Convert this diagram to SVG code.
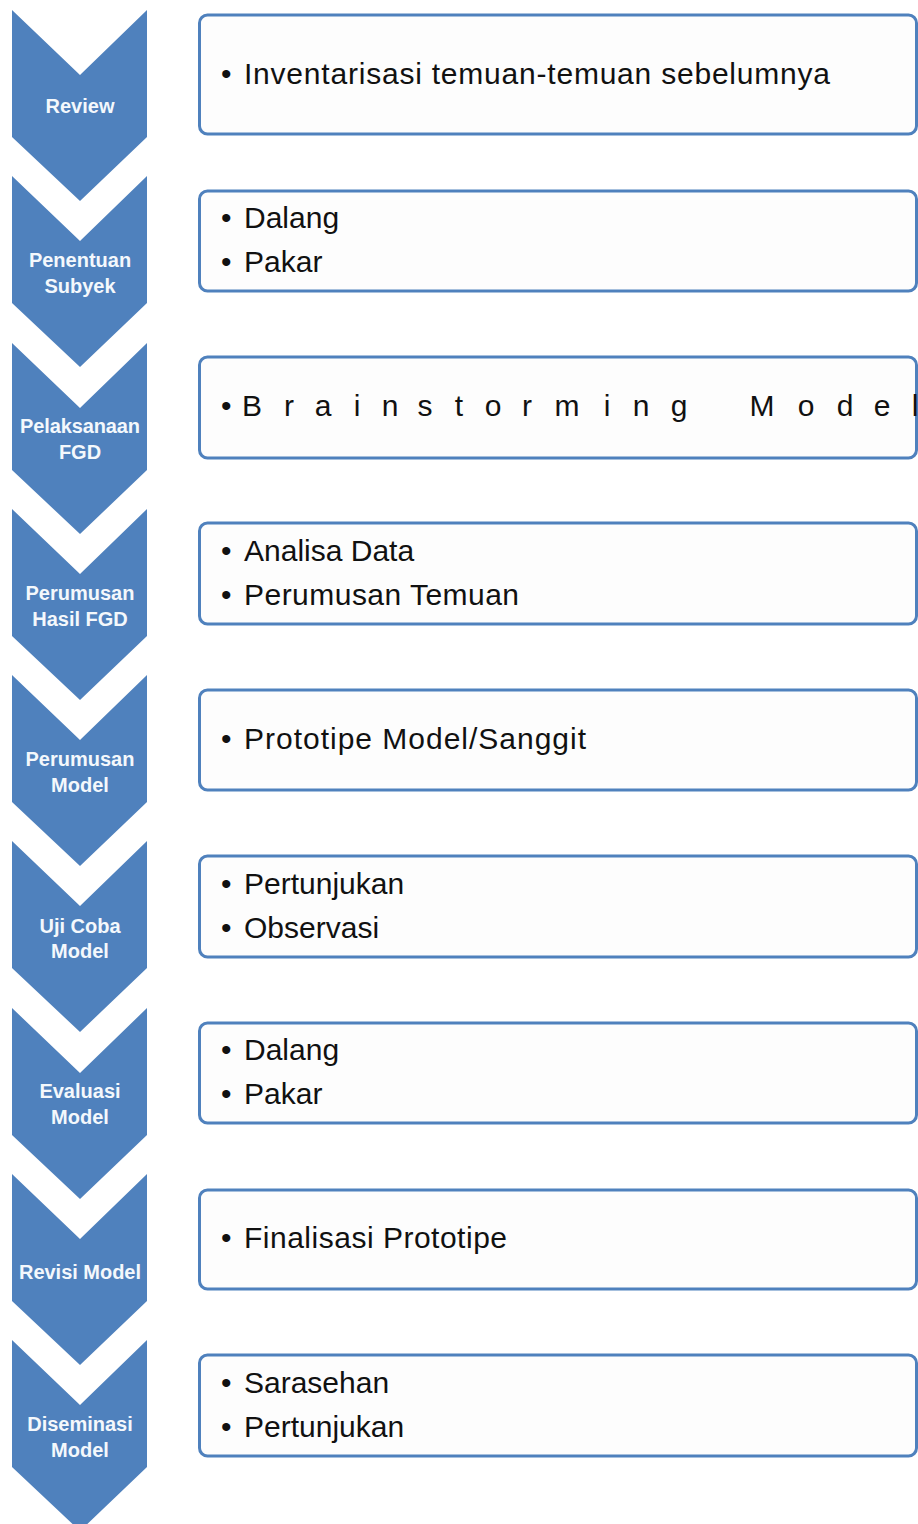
<svg xmlns="http://www.w3.org/2000/svg" width="918" height="1524" viewBox="0 0 918 1524">
<defs>
<style>
.chev{fill:#4f81bd;}
.lbl{font-family:"Liberation Sans",Arial,sans-serif;font-size:20px;font-weight:bold;fill:#f4f8fc;text-anchor:middle;}
.box{fill:#fdfdfd;stroke:#4f81bd;stroke-width:3;}
.txt{font-family:"Liberation Sans",Arial,sans-serif;font-size:30px;fill:#111;}
.sp{font-family:"Liberation Sans",Arial,sans-serif;font-size:30px;fill:#111;text-anchor:middle;}
</style>
</defs>
<rect width="918" height="1524" fill="#ffffff"/>
<g id="connectors"></g>

<g id="step1">
<polygon class="chev" points="12,10 80,75 147,10 147,137 80,201 12,137"/>
<text class="lbl" x="80" y="113">Review</text>
</g>
<g id="box1">
<rect class="box" x="199.5" y="15" width="717" height="119" rx="8"/>
<text class="txt" y="84"><tspan x="221">•</tspan><tspan x="244" textLength="586">Inventarisasi temuan-temuan sebelumnya</tspan></text>
</g>

<g id="step2">
<polygon class="chev" points="12,176 80,241 147,176 147,303 80,367 12,303"/>
<text class="lbl" x="80" y="267">Penentuan</text>
<text class="lbl" x="80" y="293">Subyek</text>
</g>
<g id="box2">
<rect class="box" x="199.5" y="191" width="717" height="100" rx="8"/>
<text class="txt" y="228"><tspan x="221">•</tspan><tspan x="244">Dalang</tspan></text>
<text class="txt" y="272"><tspan x="221">•</tspan><tspan x="244">Pakar</tspan></text>
</g>

<g id="step3">
<polygon class="chev" points="12,343 80,408 147,343 147,470 80,534 12,470"/>
<text class="lbl" x="80" y="433" textLength="120">Pelaksanaan</text>
<text class="lbl" x="80" y="459">FGD</text>
</g>
<g id="box3">
<rect class="box" x="199.5" y="357" width="717" height="101" rx="8"/>
<text class="txt" y="416"><tspan x="221">•</tspan></text>
<text class="sp" y="416" x="252 289 323 357 390 425 459 493 527 567 607 641 679 762 806 845 882 915">BrainstormingModel</text>
</g>

<g id="step4">
<polygon class="chev" points="12,509 80,574 147,509 147,636 80,700 12,636"/>
<text class="lbl" x="80" y="600">Perumusan</text>
<text class="lbl" x="80" y="626">Hasil FGD</text>
</g>
<g id="box4">
<rect class="box" x="199.5" y="523" width="717" height="101" rx="8"/>
<text class="txt" y="561"><tspan x="221">•</tspan><tspan x="244">Analisa Data</tspan></text>
<text class="txt" y="605"><tspan x="221">•</tspan><tspan x="244" textLength="275">Perumusan Temuan</tspan></text>
</g>

<g id="step5">
<polygon class="chev" points="12,675 80,740 147,675 147,802 80,866 12,802"/>
<text class="lbl" x="80" y="766">Perumusan</text>
<text class="lbl" x="80" y="792">Model</text>
</g>
<g id="box5">
<rect class="box" x="199.5" y="690" width="717" height="100" rx="8"/>
<text class="txt" y="749"><tspan x="221">•</tspan><tspan x="244" textLength="342">Prototipe Model/Sanggit</tspan></text>
</g>

<g id="step6">
<polygon class="chev" points="12,841 80,906 147,841 147,968 80,1032 12,968"/>
<text class="lbl" x="80" y="933">Uji Coba</text>
<text class="lbl" x="80" y="958">Model</text>
</g>
<g id="box6">
<rect class="box" x="199.5" y="856" width="717" height="101" rx="8"/>
<text class="txt" y="894"><tspan x="221">•</tspan><tspan x="244">Pertunjukan</tspan></text>
<text class="txt" y="938"><tspan x="221">•</tspan><tspan x="244">Observasi</tspan></text>
</g>

<g id="step7">
<polygon class="chev" points="12,1008 80,1073 147,1008 147,1135 80,1199 12,1135"/>
<text class="lbl" x="80" y="1098">Evaluasi</text>
<text class="lbl" x="80" y="1124">Model</text>
</g>
<g id="box7">
<rect class="box" x="199.5" y="1023" width="717" height="100" rx="8"/>
<text class="txt" y="1060"><tspan x="221">•</tspan><tspan x="244">Dalang</tspan></text>
<text class="txt" y="1104"><tspan x="221">•</tspan><tspan x="244">Pakar</tspan></text>
</g>

<g id="step8">
<polygon class="chev" points="12,1174 80,1239 147,1174 147,1301 80,1365 12,1301"/>
<text class="lbl" x="80" y="1279" textLength="122">Revisi Model</text>
</g>
<g id="box8">
<rect class="box" x="199.5" y="1190" width="717" height="99" rx="8"/>
<text class="txt" y="1248"><tspan x="221">•</tspan><tspan x="244" textLength="263">Finalisasi Prototipe</tspan></text>
</g>

<g id="step9">
<polygon class="chev" points="12,1340 80,1405 147,1340 147,1467 80,1531 12,1467"/>
<text class="lbl" x="80" y="1431">Diseminasi</text>
<text class="lbl" x="80" y="1457">Model</text>
</g>
<g id="box9">
<rect class="box" x="199.5" y="1355" width="717" height="101" rx="8"/>
<text class="txt" y="1393"><tspan x="221">•</tspan><tspan x="244">Sarasehan</tspan></text>
<text class="txt" y="1437"><tspan x="221">•</tspan><tspan x="244">Pertunjukan</tspan></text>
</g>
</svg>
